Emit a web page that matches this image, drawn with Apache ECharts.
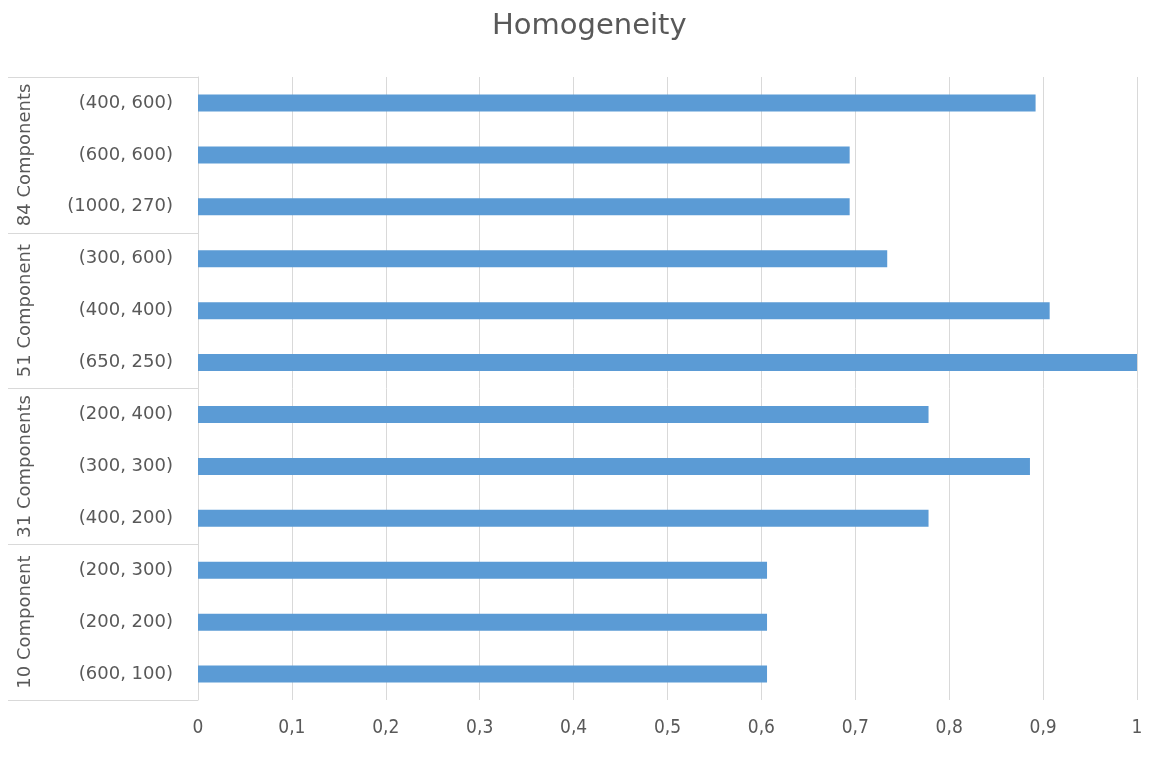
<!DOCTYPE html>
<html>
<head>
<meta charset="utf-8">
<script src="https://cdn.jsdelivr.net/npm/echarts@6/dist/echarts.min.js"></script>
<style>html,body{margin:0;padding:0;background:#fff}#c{width:1150px;height:775px}</style>
</head>
<body>
<div id="c"></div>
<script>
const title = 'Homogeneity';
const categories = ['(400, 600)','(600, 600)','(1000, 270)','(300, 600)','(400, 400)','(650, 250)','(200, 400)','(300, 300)','(400, 200)','(200, 300)','(200, 200)','(600, 100)'];
const groups = ['84 Components','51 Component','31 Components','10 Component'];
const groupSize = 3;
const values = [0.892,0.694,0.694,0.734,0.907,1.0,0.778,0.886,0.778,0.606,0.606,0.606];

const groupAxisData = [];
groups.forEach(g => { for (let i = 0; i < groupSize; i++) groupAxisData.push(i === 1 ? g : ''); });

const FONT = '"DejaVu Sans", sans-serif';
const NARROW = '"Liberation Sans Narrow", "DejaVu Sans Condensed", sans-serif';
const TXT = '#595959';
const LINE = '#d9d9d9';
const chart = echarts.init(document.getElementById('c'));
chart.setOption({
  animation: false,
  title: { text: title, left: 487, top: 7, textStyle: { fontFamily: FONT, fontSize: 29, fontWeight: 'normal', color: TXT } },
  grid: { left: 198, right: 13, top: 77, bottom: 75, containLabel: false },
  xAxis: {
    type: 'value', min: 0, max: 1, interval: 0.1,
    axisLine: { show: false }, axisTick: { show: false },
    splitLine: { lineStyle: { color: LINE, width: 1 } },
    axisLabel: { color: TXT, fontFamily: NARROW, fontSize: 19, margin: 19,
      formatter: v => String(Math.round(v * 10) / 10).replace('.', ',') }
  },
  yAxis: [
    {
      type: 'category', data: categories, inverse: true,
      axisLine: { show: true, lineStyle: { color: LINE } },
      axisTick: { show: false },
      axisLabel: { color: TXT, fontFamily: FONT, fontSize: 18, margin: 25 }
    },
    {
      type: 'category', data: groupAxisData, inverse: true, position: 'left', offset: 0,
      axisLine: { show: false },
      axisTick: { show: true, length: 190, interval: (i) => i % groupSize === 0, lineStyle: { color: LINE } },
      axisLabel: { color: TXT, fontFamily: FONT, fontSize: 18, rotate: 90, margin: 164, interval: 0, align: 'center' }
    }
  ],
  series: [{
    type: 'bar', yAxisIndex: 0, data: values, barWidth: 17,
    itemStyle: { color: '#5b9bd5' }
  }]
});
</script>
</body>
</html>
